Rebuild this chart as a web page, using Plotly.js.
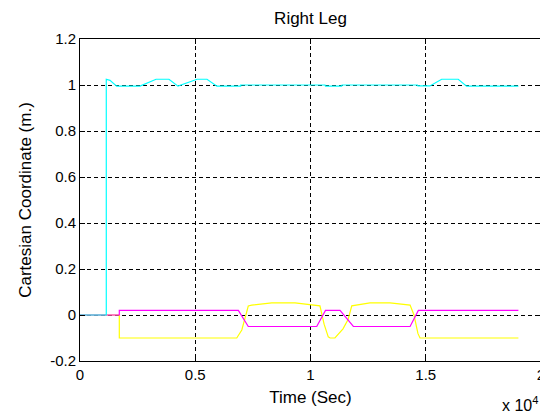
<!DOCTYPE html>
<html>
<head>
<meta charset="utf-8">
<script src="https://cdn.plot.ly/plotly-3.0.1.min.js"></script>
<style>
html,body{margin:0;padding:0;background:#fff;overflow:hidden;width:540px;height:420px;}
#chart{width:541px;height:420px;}
</style>
</head>
<body>
<div id="chart"></div>
<script>
// Time in seconds (axis shows units of 10^4 s)
const cyanT = [0, 1140, 1140, 1300, 1590, 2600, 3300, 3860, 4250, 5080, 5510, 5940, 6970, 6970, 10630, 10650, 11350, 11370, 14640, 14660, 15180, 15690, 16410, 16770, 19020];
const cyanY = [0, 0, 1.025, 1.02, 0.995, 0.995, 1.025, 1.025, 0.995, 1.025, 1.025, 0.995, 0.995, 1.0, 1.0, 0.995, 0.995, 1.0, 1.0, 0.996, 0.996, 1.025, 1.025, 0.995, 0.995];

const magT = [0, 1705, 1705, 6870, 7300, 10270, 10650, 11280, 11860, 14320, 14680, 19020];
const magY = [0, 0, 0.02, 0.02, -0.05, -0.05, 0.02, 0.02, -0.05, -0.05, 0.02, 0.02];

const yelT = [0, 1705, 1705, 6800, 7020, 7300, 7450, 8320, 9330, 10270, 10410, 10590, 10770, 10850, 11060, 11410, 11630, 11790, 12580, 13450, 14320, 14490, 14660, 14750, 19020];
const yelY = [0, 0, -0.1, -0.1, -0.065, 0.039, 0.043, 0.053, 0.053, 0.043, 0.04, -0.04, -0.095, -0.1, -0.1, -0.06, -0.02, 0.04, 0.053, 0.053, 0.043, 0.0, -0.08, -0.1, -0.1];

const xTickVals = [0, 5000, 10000, 15000, 20000];
const xTickText = ['0', '0.5', '1', '1.5', '2'];
const yTickVals = [-0.2, 0, 0.2, 0.4, 0.6, 0.8, 1, 1.2];
const yTickText = ['-0.2', '0', '0.2', '0.4', '0.6', '0.8', '1', '1.2'];

const FONT = 'Liberation Sans, Arial, sans-serif';

const traces = [
  {x: yelT, y: yelY, type: 'scatter', mode: 'lines', line: {color: '#FFFF00', width: 1.2}, hoverinfo: 'skip'},
  {x: magT, y: magY, type: 'scatter', mode: 'lines', line: {color: '#FF00FF', width: 1.2}, hoverinfo: 'skip'},
  {x: cyanT, y: cyanY, type: 'scatter', mode: 'lines', line: {color: '#00FFFF', width: 1.2}, hoverinfo: 'skip'}
];

const axisCommon = {
  showline: true, linecolor: '#000', linewidth: 1, mirror: 'ticks',
  ticks: 'inside', ticklen: 5, tickcolor: '#000', tickwidth: 1,
  showgrid: true, gridcolor: '#000', gridwidth: 1, griddash: '4px,3px',
  zeroline: false, ticklabeloverflow: 'allow',
  tickfont: {family: FONT, size: 15, color: '#000'}
};

const layout = {
  width: 541, height: 420,
  margin: {l: 80, r: 0, t: 39, b: 59},
  paper_bgcolor: '#fff', plot_bgcolor: '#fff',
  showlegend: false,
  font: {family: FONT, color: '#000'},
  title: {text: 'Right Leg', font: {family: FONT, size: 17, color: '#000'},
          xref: 'paper', x: 0.5, xanchor: 'center', yref: 'container', y: 0.957, yanchor: 'middle'},
  xaxis: Object.assign({}, axisCommon, {
    range: [0, 20000], tickmode: 'array', tickvals: xTickVals, ticktext: xTickText,
    title: {text: 'Time (Sec)', font: {family: FONT, size: 17, color: '#000'}, standoff: 9}
  }),
  yaxis: Object.assign({}, axisCommon, {
    range: [-0.2, 1.2], tickmode: 'array', tickvals: yTickVals, ticktext: yTickText,
    title: {text: 'Cartesian Coordinate (m.)', font: {family: FONT, size: 17, color: '#000'}, standoff: 14}
  }),
  annotations: [
    {text: 'x 10<sup>4</sup>', xref: 'paper', yref: 'paper', x: 0.998, y: -0.135,
     xanchor: 'right', yanchor: 'middle', showarrow: false,
     font: {family: FONT, size: 16, color: '#000'}}
  ]
};

Plotly.newPlot('chart', traces, layout, {staticPlot: true, displayModeBar: false});
</script>
</body>
</html>
